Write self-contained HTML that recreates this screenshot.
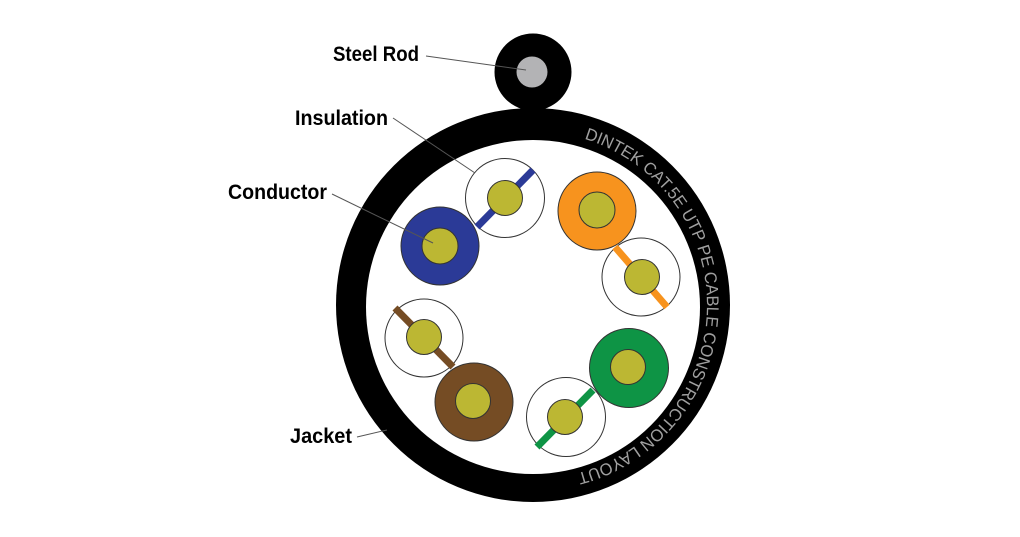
<!DOCTYPE html>
<html><head><meta charset="utf-8"><style>html,body{margin:0;padding:0;background:#fff}svg{display:block}</style></head>
<body>
<svg width="1020" height="537" viewBox="0 0 1020 537" xmlns="http://www.w3.org/2000/svg">
<defs>
<path id="arc" d="M533,131 A174,174 0 1,1 532.9,131"/>
</defs>
<circle cx="533" cy="72" r="38.5" fill="#000"/>
<circle cx="532" cy="72" r="15.5" fill="#b3b3b5"/>
<circle cx="533" cy="305" r="197" fill="#000"/>
<circle cx="533" cy="307" r="167" fill="#fff"/>
<text font-family="Liberation Sans, sans-serif" font-size="17" fill="#a0a0a0"><textPath href="#arc" startOffset="52" textLength="450" lengthAdjust="spacingAndGlyphs">DINTEK CAT.5E UTP PE  CABLE CONSTRUCTION LAYOUT</textPath></text>
<g stroke="#333" stroke-width="1">
<circle cx="505" cy="198" r="39.5" fill="#fff"/>
<line x1="533" y1="170" x2="477" y2="227" stroke="#2b3a97" stroke-width="7"/>
<circle cx="505" cy="198" r="17.5" fill="#bcb733"/>
<circle cx="440" cy="246" r="39" fill="#2b3a97"/>
<circle cx="440" cy="246" r="18" fill="#bcb733"/>
<circle cx="597" cy="211" r="39" fill="#f7931e"/>
<circle cx="597" cy="210" r="18" fill="#bcb733"/>
<circle cx="641" cy="277" r="39" fill="#fff"/>
<line x1="615" y1="247" x2="667" y2="307" stroke="#f7931e" stroke-width="7"/>
<circle cx="642" cy="277" r="17.5" fill="#bcb733"/>
<circle cx="424" cy="338" r="39" fill="#fff"/>
<line x1="395" y1="308" x2="453" y2="367" stroke="#754c24" stroke-width="7"/>
<circle cx="424" cy="337" r="17.5" fill="#bcb733"/>
<circle cx="474" cy="402" r="39" fill="#754c24"/>
<circle cx="473" cy="401" r="17.5" fill="#bcb733"/>
<circle cx="629" cy="368" r="39.5" fill="#0e9445"/>
<circle cx="628" cy="367" r="17.5" fill="#bcb733"/>
<circle cx="566" cy="417" r="39.5" fill="#fff"/>
<line x1="593" y1="390" x2="537" y2="447" stroke="#0e9445" stroke-width="7"/>
<circle cx="565" cy="417" r="17.5" fill="#bcb733"/>
</g>
<g stroke="#555" stroke-width="1">
<line x1="426" y1="56" x2="526" y2="70"/>
<line x1="393" y1="118" x2="475" y2="173"/>
<line x1="332" y1="194" x2="433" y2="243"/>
<line x1="357" y1="437" x2="387" y2="430"/>
</g>
<g font-family="Liberation Sans, sans-serif" font-weight="bold" font-size="21" fill="#000">
<text x="333" y="61" textLength="86" lengthAdjust="spacingAndGlyphs">Steel Rod</text>
<text x="295" y="125" textLength="93" lengthAdjust="spacingAndGlyphs">Insulation</text>
<text x="228" y="199" textLength="99" lengthAdjust="spacingAndGlyphs">Conductor</text>
<text x="290" y="443" textLength="62" lengthAdjust="spacingAndGlyphs">Jacket</text>
</g>
</svg>
</body></html>
